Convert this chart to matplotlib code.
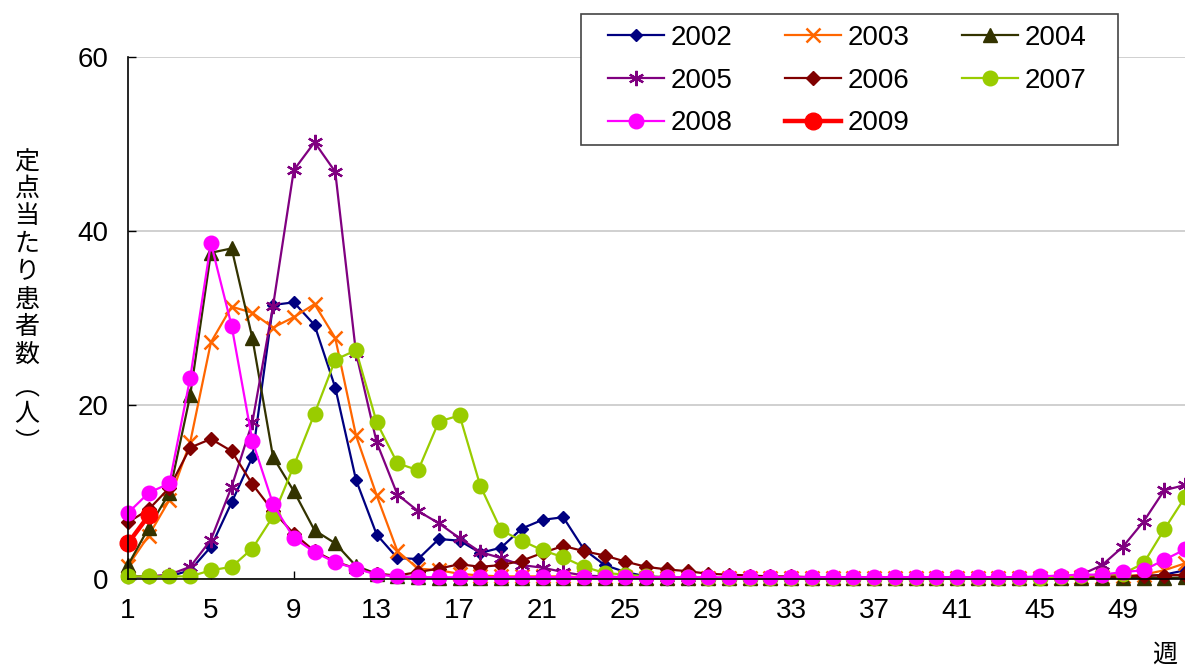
import matplotlib
matplotlib.use("Agg")
import matplotlib.pyplot as plt
from matplotlib.patches import Rectangle

weeks = list(range(1, 53))

y2002 = [0.3, 0.3, 0.3, 1.0, 3.7, 8.8, 14.0, 31.5, 31.8, 29.2,
         22.0, 11.4, 5.1, 2.4, 2.3, 4.6, 4.4, 3.0, 3.6, 5.8,
         6.8, 7.1, 3.4, 1.6, 0.8, 0.3, 0.2, 0.2, 0.1, 0.1,
         0.1, 0.1, 0.1, 0.1, 0.1, 0.1, 0.1, 0.1, 0.1, 0.1,
         0.1, 0.1, 0.1, 0.1, 0.1, 0.1, 0.1, 0.2, 0.2, 0.3,
         0.5, 1.0]
y2003 = [1.5, 5.0, 9.1, 15.7, 27.2, 31.3, 30.6, 28.9, 30.1, 31.6,
         27.7, 16.5, 9.6, 3.2, 1.2, 1.0, 0.6, 0.4, 0.3, 0.3,
         0.3, 0.3, 0.2, 0.2, 0.2, 0.1, 0.1, 0.1, 0.1, 0.1,
         0.1, 0.1, 0.1, 0.1, 0.1, 0.1, 0.1, 0.1, 0.1, 0.1,
         0.1, 0.1, 0.1, 0.1, 0.1, 0.1, 0.2, 0.2, 0.3, 0.5,
         1.0, 1.8]
y2004 = [1.6, 5.9, 9.9, 21.1, 37.5, 38.0, 27.7, 14.0, 10.1, 5.6,
         4.1, 1.5, 0.6, 0.3, 0.2, 0.1, 0.1, 0.1, 0.1, 0.1,
         0.1, 0.1, 0.1, 0.1, 0.1, 0.1, 0.1, 0.1, 0.1, 0.1,
         0.1, 0.1, 0.1, 0.1, 0.1, 0.1, 0.1, 0.1, 0.1, 0.1,
         0.1, 0.1, 0.1, 0.1, 0.1, 0.1, 0.1, 0.1, 0.1, 0.1,
         0.1, 0.2]
y2005 = [0.3, 0.3, 0.5, 1.4, 4.5, 10.6, 18.0, 31.4, 47.0, 50.2,
         46.8, 26.0, 15.7, 9.7, 7.8, 6.4, 4.7, 3.1, 2.4, 1.6,
         1.3, 0.8, 0.4, 0.3, 0.2, 0.2, 0.1, 0.1, 0.1, 0.1,
         0.1, 0.1, 0.1, 0.1, 0.1, 0.1, 0.1, 0.1, 0.1, 0.1,
         0.1, 0.1, 0.1, 0.1, 0.2, 0.3, 0.5, 1.6, 3.7, 6.6,
         10.2, 10.8]
y2006 = [6.5, 8.0, 10.5, 15.1, 16.1, 14.7, 10.9, 7.8, 5.2, 3.2,
         2.0, 1.2, 0.6, 0.4, 0.8, 1.2, 1.7, 1.4, 1.6, 2.1,
         3.0, 3.8, 3.2, 2.7, 2.0, 1.4, 1.1, 0.9, 0.6, 0.5,
         0.4, 0.3, 0.3, 0.2, 0.2, 0.2, 0.2, 0.2, 0.2, 0.2,
         0.2, 0.2, 0.2, 0.2, 0.2, 0.2, 0.2, 0.3, 0.3, 0.4,
         0.4, 0.5]
y2007 = [0.3, 0.3, 0.3, 0.3, 1.0, 1.4, 3.5, 7.2, 13.0, 19.0,
         25.2, 26.3, 18.0, 13.3, 12.5, 18.1, 18.8, 10.7, 5.6, 4.4,
         3.3, 2.5, 1.4, 0.7, 0.5, 0.3, 0.2, 0.2, 0.1, 0.1,
         0.1, 0.1, 0.1, 0.1, 0.1, 0.1, 0.1, 0.1, 0.1, 0.1,
         0.1, 0.1, 0.1, 0.1, 0.1, 0.2, 0.3, 0.5, 0.6, 1.8,
         5.7, 9.4]
y2008 = [7.6, 9.9, 11.0, 23.1, 38.6, 29.1, 15.9, 8.6, 4.7, 3.1,
         1.9, 1.2, 0.5, 0.3, 0.2, 0.2, 0.2, 0.2, 0.2, 0.2,
         0.2, 0.2, 0.2, 0.2, 0.2, 0.2, 0.2, 0.2, 0.2, 0.2,
         0.2, 0.2, 0.2, 0.2, 0.2, 0.2, 0.2, 0.2, 0.2, 0.2,
         0.2, 0.2, 0.2, 0.2, 0.3, 0.4, 0.5, 0.5, 0.8, 1.0,
         2.2, 3.4]
y2009 = [4.1, 7.3]

series_labels = ["2002", "2003", "2004", "2005", "2006", "2007", "2008", "2009"]
x_tick_labels = [str(w) for w in range(1, 50, 4)]
y_ticks = [0, 20, 40, 60]
ylabel_chars = ["定", "点", "当", "た", "り", "患", "者", "数", "︵", "人", "︶"]
xlabel_text = "週"

FONT = ["Liberation Sans", "Noto Sans CJK JP", "DejaVu Sans"]
plt.rcParams["font.family"] = FONT

W, H = 1185, 669
fig = plt.figure(figsize=(W / 100, H / 100), dpi=100)
ax = fig.add_axes([128 / W, 1 - 579 / H, 1 - 128 / W, (579 - 57) / H])

styles = [
    dict(color="#000080", marker="D", ms=6.5, lw=1.6),
    dict(color="#FF6600", marker="x", ms=10, mew=1.8, lw=1.6),
    dict(color="#333300", marker="^", ms=10.5, lw=1.6),
    dict(color="#800080", marker=(6, 2, 0), ms=11, mew=1.6, lw=1.6),
    dict(color="#800000", marker="D", ms=7, lw=1.6),
    dict(color="#99CC00", marker="o", ms=10.5, lw=1.6),
    dict(color="#FF00FF", marker="o", ms=10.5, lw=1.6),
    dict(color="#FF0000", marker="o", ms=12, lw=3.2),
]
all_y = [y2002, y2003, y2004, y2005, y2006, y2007, y2008, y2009]
handles = []
for lab, yv, st in zip(series_labels, all_y, styles):
    h, = ax.plot(weeks[:len(yv)], yv, label=lab, clip_on=False, **st)
    handles.append(h)

ax.set_xlim(1, 52)
ax.set_ylim(0, 60)
ax.set_xticks(list(range(1, 50, 4)))
ax.set_xticklabels(x_tick_labels)
ax.set_yticks(y_ticks)
ax.set_yticklabels([str(v) for v in y_ticks])
ax.tick_params(axis="both", direction="in", length=6, width=1, labelsize=20, colors="black")
ax.tick_params(axis="y", pad=14)
ax.tick_params(axis="x", pad=14)
ax.grid(axis="y", color="#C8C8C8", linewidth=1.2)
ax.set_axisbelow(True)
for s in ["top", "right"]:
    ax.spines[s].set_visible(False)
ax.spines["left"].set_linewidth(1.2)
ax.spines["bottom"].set_linewidth(1.2)

# row-major legend order: 3 columns
order = [0, 3, 6, 1, 4, 7, 2, 5]
leg = ax.legend([handles[i] for i in order], [series_labels[i] for i in order],
                ncol=3, loc="upper left",
                bbox_to_anchor=(608 / W, 1 - 25 / H), bbox_transform=fig.transFigure,
                fontsize=20, frameon=False,
                handlelength=2.0, handletextpad=0.25, columnspacing=1.9,
                labelspacing=0.6, borderpad=0, borderaxespad=0)
leg.set_zorder(6)

# legend frame (drawn above the axes background, below the legend entries)
frame = Rectangle((581 / W, 1 - 145 / H), (1118 - 581) / W, (145 - 14) / H,
                  transform=fig.transFigure, facecolor="white",
                  edgecolor="#444444", linewidth=1.2, zorder=5, clip_on=False)
ax.add_artist(frame)

# vertical y label, stacked upright characters
ys = [163, 189, 216, 244, 272, 300, 327, 355, 388, 414, 443]
for ch, yp in zip(ylabel_chars, ys):
    fig.text(27 / W, 1 - yp / H, ch, ha="center", va="center", fontsize=18,
             family=["Noto Sans CJK JP", "DejaVu Sans"])

fig.text(1165 / W, 1 - 655 / H, xlabel_text, ha="center", va="center", fontsize=18,
         family=["Noto Sans CJK JP", "DejaVu Sans"])

fig.savefig("out.png", dpi=100)
